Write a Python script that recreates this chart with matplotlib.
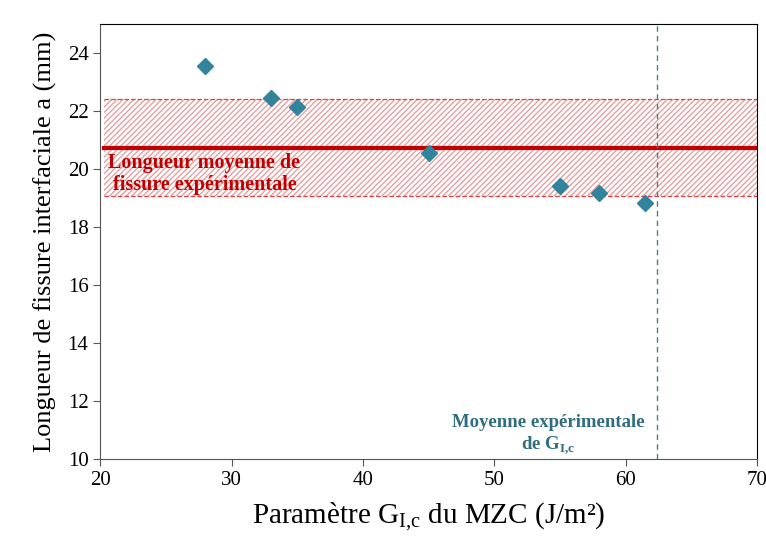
import numpy as np
import matplotlib.pyplot as plt

# G_Ic du MZC et longueur de fissure simulée
g_ic = [28, 33, 35, 45, 55, 58, 61.5]
a_sim = [23.55, 22.47, 22.16, 20.57, 19.43, 19.17, 18.82]

# longueur expérimentale : moyenne et bornes
a_moy = 20.75
a_min = 19.08
a_max = 22.42
g_ic_exp = 62.4

plt.rcParams['font.family'] = ['Liberation Serif', 'DejaVu Serif']
plt.rcParams['mathtext.fontset'] = 'custom'
plt.rcParams['mathtext.rm'] = 'Liberation Serif'
plt.rcParams['mathtext.bf'] = 'Liberation Serif:bold'
rouge = '#C00000'
bleu = '#31849B'

fig, ax = plt.subplots(figsize=(7.66, 5.42), dpi=100)
fig.subplots_adjust(left=0.131, right=0.988, bottom=0.153, top=0.955)

xs = [20.3, 70]
ax.fill_between(xs, a_min, a_max, facecolor='none', edgecolor='#E8A0A0',
                hatch='//////', linewidth=0)
ax.plot(xs, [a_max, a_max], '--', color='#E04040', linewidth=0.9)
ax.plot(xs, [a_min, a_min], '--', color='#E04040', linewidth=0.9)
ax.plot(xs, [a_moy, a_moy], '-', color=rouge, linewidth=3)
ax.axvline(g_ic_exp, color='#4A7F8C', linestyle=(0, (4, 3)), linewidth=1)

ax.plot(g_ic, a_sim, 'D', color=bleu, markersize=8, linestyle='none')

ax.text(20.6, 20.55, 'Longueur moyenne de\n fissure expérimentale', color=rouge,
        fontweight='bold', fontsize=14.5, va='top', ha='left', linespacing=1.1)
ax.text(54.1, 11.55, 'Moyenne expérimentale\nde G$_{\\mathbf{I{,}c}}$', color='#2E6E80',
        fontweight='bold', fontsize=13.5, va='top', ha='center', linespacing=1.2,
        multialignment='center')

ax.set_xlim(20, 70)
ax.set_ylim(10, 25)
ax.set_xticks(np.arange(20, 71, 10))
ax.set_yticks(np.arange(10, 25, 2))
ax.tick_params(labelsize=15, direction='out', length=5, color='#555555')
for s in ['left', 'bottom']:
    ax.spines[s].set_color('#555555')

ax.set_xlabel('Paramètre G$_{\\mathrm{I{,}c}}$ du MZC (J/m²)', fontsize=21, labelpad=8)
ax.set_ylabel('Longueur de fissure interfaciale a (mm)', fontsize=19, labelpad=8)

fig.savefig('out.png', dpi=100)
